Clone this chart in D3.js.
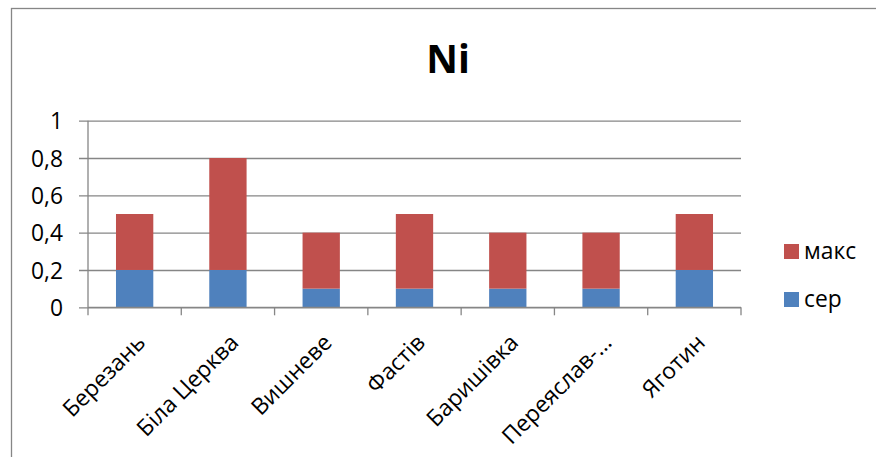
<!DOCTYPE html>
<html>
<head>
<meta charset="utf-8">
<script src="https://cdn.jsdelivr.net/npm/d3@7"></script>
<style>
  html, body { margin: 0; padding: 0; background: #fff; }
  svg { display: block; }
  text { font-family: "Open Sans", "DejaVu Sans", sans-serif; fill: #000; }
</style>
</head>
<body>
<svg id="chart" width="876" height="457"></svg>
<script>
// Ni content by settlement: mean (сер) and the extra up to max (макс), stacked
const categories = ["Березань", "Біла Церква", "Вишневе", "Фастів", "Баришівка", "Переяслав-…", "Яготин"];
const serValues = [0.2, 0.2, 0.1, 0.1, 0.1, 0.1, 0.2];
const maksValues = [0.3, 0.6, 0.3, 0.4, 0.3, 0.3, 0.3];
const seriesNames = ["сер", "макс"];
const seriesColors = ["#4F81BD", "#C0504D"];
const yTicks = [0, 0.2, 0.4, 0.6, 0.8, 1];
const yTickLabels = ["0", "0,2", "0,4", "0,6", "0,8", "1"];
const title = "Ni";

const svg = d3.select("#chart");
const gridColor = "#868686";
const labelSize = "22.8px";

const plot = { left: 88, right: 741, top: 120.7, bottom: 307.3 };

// outer chart frame
svg.append("rect")
  .attr("x", 11.5).attr("y", 8.5)
  .attr("width", 900).attr("height", 500)
  .attr("fill", "none").attr("stroke", gridColor).attr("stroke-width", 1.3);

const x = d3.scaleBand()
  .domain(categories)
  .range([plot.left, plot.right])
  .paddingInner(0.6)
  .paddingOuter(0.3);

const y = d3.scaleLinear().domain([0, 1]).range([plot.bottom, plot.top]);

// horizontal gridlines with left tick marks and labels
const yAxis = d3.axisLeft(y)
  .tickValues(yTicks)
  .tickSize(-(plot.right - plot.left))
  .tickSizeOuter(0)
  .tickPadding(0)
  .tickFormat((d, i) => yTickLabels[i]);

const gy = svg.append("g")
  .attr("transform", `translate(${plot.left},0)`)
  .call(yAxis);
gy.select(".domain").remove();
gy.selectAll(".tick line")
  .attr("x1", -9)
  .attr("stroke", gridColor).attr("stroke-width", 1.3);
gy.selectAll(".tick text")
  .attr("x", -25)
  .attr("dy", "0.36em")
  .attr("font-size", labelSize)
  .attr("font-family", "'Open Sans', sans-serif")
  .attr("fill", "#000");

// vertical value axis line
svg.append("line")
  .attr("x1", plot.left).attr("x2", plot.left)
  .attr("y1", plot.top).attr("y2", plot.bottom)
  .attr("stroke", gridColor).attr("stroke-width", 1.3);

// stacked bars
const stackData = categories.map((c, i) => ({ cat: c, "сер": serValues[i], "макс": maksValues[i] }));
const stacked = d3.stack().keys(seriesNames)(stackData);

svg.append("g").selectAll("g")
  .data(stacked)
  .join("g")
  .attr("fill", (d, i) => seriesColors[i])
  .selectAll("rect")
  .data(d => d)
  .join("rect")
  .attr("x", d => x(d.data.cat))
  .attr("width", x.bandwidth())
  .attr("y", d => y(d[1]))
  .attr("height", d => y(d[0]) - y(d[1]));

// category axis: baseline and boundary ticks
const step = x.step();
const boundaries = d3.range(categories.length + 1).map(i => plot.left + i * step);
svg.append("line")
  .attr("x1", plot.left).attr("x2", plot.right)
  .attr("y1", plot.bottom).attr("y2", plot.bottom)
  .attr("stroke", gridColor).attr("stroke-width", 1.3);
svg.append("g").selectAll("line")
  .data(boundaries)
  .join("line")
  .attr("x1", d => d).attr("x2", d => d)
  .attr("y1", plot.bottom).attr("y2", plot.bottom + 8)
  .attr("stroke", gridColor).attr("stroke-width", 1.3);

// rotated category labels
svg.append("g").selectAll("text")
  .data(categories)
  .join("text")
  .attr("text-anchor", "end")
  .attr("font-size", labelSize)
  .attr("transform", d => `translate(${x(d) + x.bandwidth() / 2 + 12},344) rotate(-45)`)
  .text(d => d);

// title
svg.append("text")
  .attr("x", 448).attr("y", 72.5)
  .attr("text-anchor", "middle")
  .attr("font-size", "39px")
  .attr("font-weight", "bold")
  .text(title);

// legend, top entry is the upper stack segment
const legendItems = [
  { name: "макс", color: seriesColors[1], y: 244 },
  { name: "сер", color: seriesColors[0], y: 292 }
];
const lg = svg.append("g").selectAll("g")
  .data(legendItems)
  .join("g");
lg.append("rect")
  .attr("x", 784).attr("y", d => d.y)
  .attr("width", 15).attr("height", 15)
  .attr("fill", d => d.color);
lg.append("text")
  .attr("x", 804).attr("y", d => d.y + 15)
  .attr("font-size", labelSize)
  .text(d => d.name);
</script>
</body>
</html>
